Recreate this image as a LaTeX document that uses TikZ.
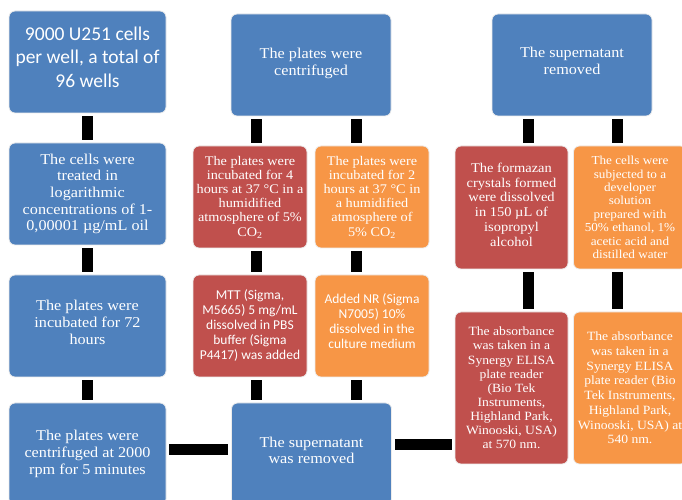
\documentclass[tikz,border=0pt]{standalone}
\usepackage{fontspec}
\setmainfont{Liberation Serif}[FakeStretch=1.08]
\newfontfamily\calibri{Carlito}
\usepackage{tikz}
\usetikzlibrary{shapes,arrows,positioning}

\definecolor{stepblue}{HTML}{4F81BD}
\definecolor{stepred}{HTML}{C0504D}
\definecolor{steporange}{HTML}{F79646}

\begin{document}
\begin{tikzpicture}[x=1pt, y=1pt, node distance=132pt]
        \tikzstyle{box} = [rectangle, draw=white!85!gray, line width=0.8pt, rounded corners=6pt,
            text=white, align=center, inner sep=0pt]
        \tikzstyle{bluebox} = [box, fill=stepblue, minimum width=157pt, minimum height=102pt,
            font=\fontsize{15}{16.7}\selectfont]
        \tikzstyle{redbox} = [box, fill=stepred, minimum width=114pt, minimum height=102pt,
            font=\fontsize{13.2}{14.2}\selectfont]
        \tikzstyle{orangebox} = [box, fill=steporange, minimum width=114pt, minimum height=102pt,
            font=\fontsize{13.2}{14.2}\selectfont]
        \tikzstyle{bar} = [draw=black, line width=11pt, shorten <=3pt, shorten >=3pt]

        \clip (0,0) rectangle (682,500);

        % left column
        \node [bluebox, font=\calibri\fontsize{19.5}{23.5}\selectfont] (seed) at (87.5,438)
            {9000 U251 cells\\per well, a total of\\96 wells\\[-13pt]};
        \node [bluebox, below of=seed] (treat)
            {The cells were\\treated in\\logarithmic\\concentrations of 1-\\0,00001 µg/mL oil};
        \node [bluebox, below of=treat] (incub)
            {The plates were\\incubated for 72\\hours\\[-9pt]};
        \node [bluebox, below of=incub, node distance=128pt] (spin)
            {The plates were\\centrifuged at 2000\\rpm for 5 minutes};

        % middle column
        \node [bluebox, minimum width=160pt, right of=spin, node distance=224pt] (remove)
            {The supernatant\\was removed\\[-9pt]};
        \node [redbox, font=\calibri\fontsize{13.5}{15}\selectfont] (mtt) at (250,174)
            {MTT (Sigma,\\M5665) 5 mg/mL\\dissolved in PBS\\buffer (Sigma\\P4417) was added};
        \node [orangebox, font=\calibri\fontsize{13.5}{15}\selectfont, right of=mtt, node distance=122pt] (nr)
            {Added NR (Sigma\\N7005) 10\%\\dissolved in the\\culture medium\\[-6pt]};
        \node [redbox, above of=mtt, node distance=129pt] (mttinc)
            {The plates were\\incubated for 4\\hours at 37 °C in a\\humidified\\atmosphere of 5\%\\CO\textsubscript{2}};
        \node [orangebox, above of=nr, node distance=129pt] (nrinc)
            {The plates were\\incubated for 2\\hours at 37 °C in\\a humidified\\atmosphere of\\5\% CO\textsubscript{2}};
        \node [bluebox, minimum width=160pt] (spintwo) at (311,435)
            {The plates were\\centrifuged\\[-11pt]};

        % right column
        \node [bluebox, minimum width=160pt] (removetwo) at (572,435)
            {The supernatant\\removed\\[-8pt]};
        \node [redbox, minimum width=113pt, minimum height=123pt, font=\fontsize{13.4}{14.8}\selectfont] (formazan) at (511.5,292.5)
            {The formazan\\crystals formed\\were dissolved\\in 150 µL of\\isopropyl\\alcohol\\[-9pt]};
        \node [orangebox, minimum width=113pt, minimum height=123pt, font=\fontsize{12.2}{13.4}\selectfont,
            right of=formazan, node distance=118.5pt] (developer)
            {The cells were\\subjected to a\\developer\\solution\\prepared with\\50\% ethanol, 1\%\\acetic acid and\\distilled water};
        \node [redbox, minimum width=113pt, minimum height=152pt, font=\fontsize{12.6}{14.1}\selectfont,
            below of=formazan, node distance=180.5pt] (readmtt)
            {The absorbance\\was taken in a\\Synergy ELISA\\plate reader\\(Bio Tek\\Instruments,\\Highland Park,\\Winooski, USA)\\at 570 nm.};
        \node [orangebox, minimum width=113pt, minimum height=152pt, font=\fontsize{12.6}{14.7}\selectfont,
            right of=readmtt, node distance=118.5pt] (readnr)
            {The absorbance\\was taken in a\\Synergy ELISA\\plate reader (Bio\\Tek Instruments,\\Highland Park,\\Winooski, USA) at\\540 nm.};

        % bars
        \path [bar] (seed) -- (treat);
        \path [bar] (treat) -- (incub);
        \path [bar] (incub) -- (spin);
        \path [bar] ([yshift=4pt]spin.east) -- ([yshift=4pt]spin.east -| remove.west);
        \path [bar] ([xshift=6pt]mtt.south) -- ([xshift=6pt]mtt.south |- remove.north);
        \path [bar] ([xshift=-16pt]nr.south) -- ([xshift=-16pt]nr.south |- remove.north);
        \path [bar] ([xshift=6pt]mttinc.south) -- ([xshift=6pt]mtt.north);
        \path [bar] ([xshift=-16pt]nrinc.south) -- ([xshift=-16pt]nr.north);
        \path [bar] ([xshift=6pt]mttinc.north) -- ([xshift=6pt]mttinc.north |- spintwo.south);
        \path [bar] ([xshift=-16pt]nrinc.north) -- ([xshift=-16pt]nrinc.north |- spintwo.south);
        \path [bar] ([yshift=9pt]remove.east) -- ([yshift=9pt]remove.east -| readmtt.west);
        \path [bar] ([xshift=17pt]formazan.north) -- ([xshift=17pt]formazan.north |- removetwo.south);
        \path [bar] ([xshift=-12.5pt]developer.north) -- ([xshift=-12.5pt]developer.north |- removetwo.south);
        \path [bar] ([xshift=17pt]formazan.south) -- ([xshift=17pt]readmtt.north);
        \path [bar] ([xshift=-12.5pt]developer.south) -- ([xshift=-12.5pt]readnr.north);
      \end{tikzpicture}
\end{document}
